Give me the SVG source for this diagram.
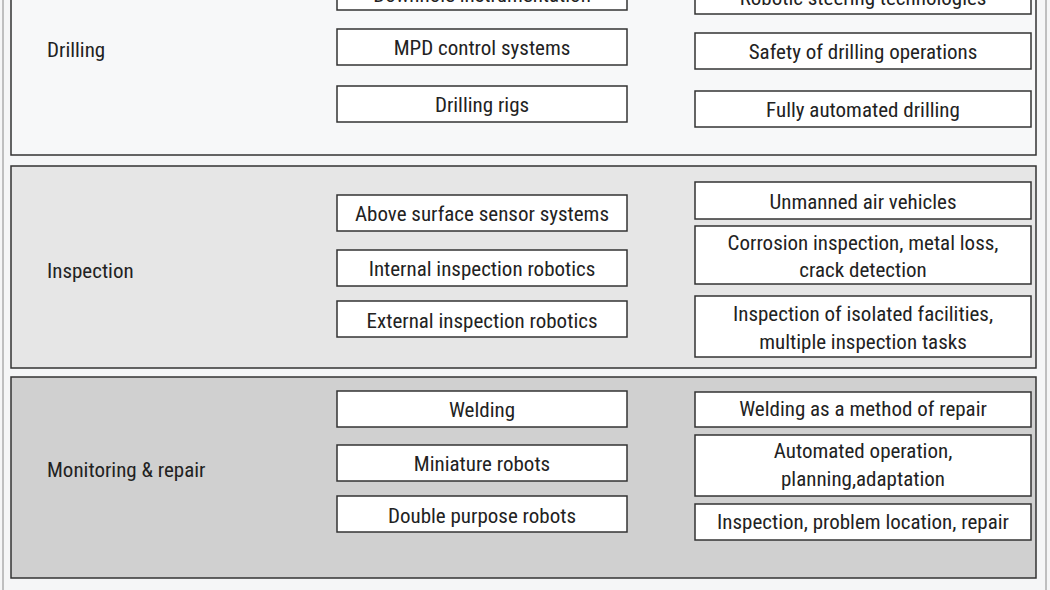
<svg xmlns="http://www.w3.org/2000/svg" width="1050" height="590" viewBox="0 0 1050 590">
<style>
.b{fill:#fff;stroke:#333;stroke-width:1.5}
.p{stroke:#333;stroke-width:1.5}
text{font-family:"Liberation Sans Narrow","Roboto Condensed","Liberation Sans",sans-serif;font-size:21px;fill:#222}
.c{text-anchor:middle}
</style>
<rect x="0" y="0" width="1050" height="590" fill="#f5f6f7"/>
<line x1="3" y1="0" x2="3" y2="590" stroke="#888"/>
<line x1="1046" y1="0" x2="1046" y2="590" stroke="#888"/>
<g id="drilling">
<rect class="p" x="11" y="-5" width="1025" height="160" fill="#f7f8f9"/>
<text x="47" y="57">Drilling</text>
<rect class="b" x="337" y="-26" width="290" height="36"/><text class="c" x="482" y="2">Downhole instrumentation</text>
<rect class="b" x="337" y="29" width="290" height="36"/><text class="c" x="482" y="55">MPD control systems</text>
<rect class="b" x="337" y="86" width="290" height="36"/><text class="c" x="482" y="112">Drilling rigs</text>
<rect class="b" x="695" y="-22" width="336" height="36"/><text class="c" x="863" y="5">Robotic steering technologies</text>
<rect class="b" x="695" y="33" width="336" height="36"/><text class="c" x="863" y="59">Safety of drilling operations</text>
<rect class="b" x="695" y="91" width="336" height="36"/><text class="c" x="863" y="117">Fully automated drilling</text>
</g>
<g id="inspection">
<rect class="p" x="11" y="166" width="1025" height="202" fill="#e6e6e6"/>
<text x="47" y="278">Inspection</text>
<rect class="b" x="337" y="195" width="290" height="36"/><text class="c" x="482" y="221">Above surface sensor systems</text>
<rect class="b" x="337" y="250" width="290" height="36"/><text class="c" x="482" y="276">Internal inspection robotics</text>
<rect class="b" x="337" y="301" width="290" height="36"/><text class="c" x="482" y="328">External inspection robotics</text>
<rect class="b" x="695" y="182" width="336" height="37"/><text class="c" x="863" y="209">Unmanned air vehicles</text>
<rect class="b" x="695" y="226" width="336" height="58"/><text class="c" x="863" y="250">Corrosion inspection, metal loss,</text><text class="c" x="863" y="277">crack detection</text>
<rect class="b" x="695" y="296" width="336" height="61"/><text class="c" x="863" y="321">Inspection of isolated facilities,</text><text class="c" x="863" y="349">multiple inspection tasks</text>
</g>
<g id="monitoring">
<rect class="p" x="11" y="377" width="1025" height="201" fill="#d0d0d0"/>
<text x="47" y="477">Monitoring &amp; repair</text>
<rect class="b" x="337" y="391" width="290" height="36"/><text class="c" x="482" y="417">Welding</text>
<rect class="b" x="337" y="445" width="290" height="36"/><text class="c" x="482" y="471">Miniature robots</text>
<rect class="b" x="337" y="496" width="290" height="36"/><text class="c" x="482" y="523">Double purpose robots</text>
<rect class="b" x="695" y="392" width="336" height="35"/><text class="c" x="863" y="416">Welding as a method of repair</text>
<rect class="b" x="695" y="435" width="336" height="61"/><text class="c" x="863" y="458">Automated operation,</text><text class="c" x="863" y="486">planning,adaptation</text>
<rect class="b" x="695" y="504" width="336" height="36"/><text class="c" x="863" y="529">Inspection, problem location, repair</text>
</g>
<g id="connectors"/>
</svg>
